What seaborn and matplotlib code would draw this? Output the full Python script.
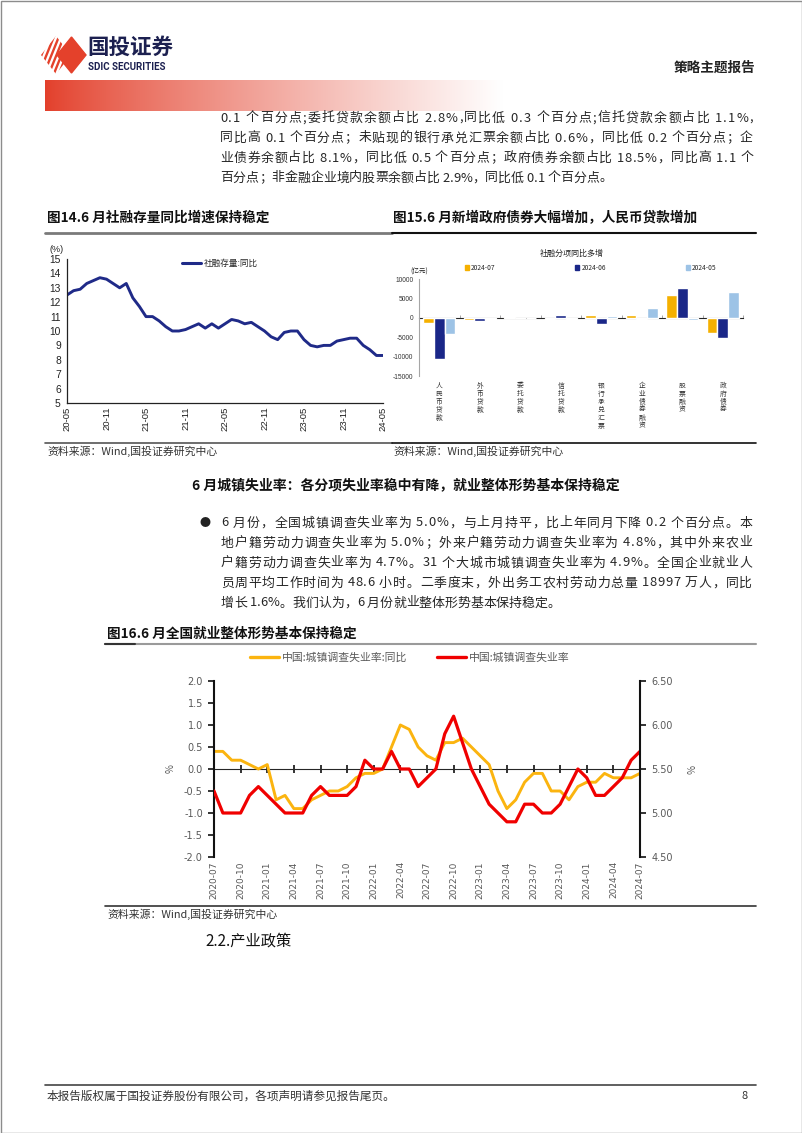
import numpy as np
import pandas as pd
import matplotlib
matplotlib.use('Agg')
import matplotlib.pyplot as plt
import seaborn as sns
from matplotlib.patches import Polygon, Rectangle, Patch
from matplotlib.lines import Line2D
from matplotlib.font_manager import FontProperties, findfont, get_font

sns.set_style('white')
plt.rcParams['font.family'] = ['Noto Sans CJK SC', 'DejaVu Sans']
plt.rcParams['axes.unicode_minus'] = False

# ---------------- data ----------------
# Fig 14: 社融存量同比 (%), monthly 2020-05 .. 2024-05
tsf_yoy = [12.5, 12.8, 12.9, 13.3, 13.5, 13.7, 13.6, 13.3, 13.0, 13.3, 12.3, 11.7,
           11.0, 11.0, 10.7, 10.3, 10.0, 10.0, 10.1, 10.3, 10.5, 10.2, 10.5, 10.2,
           10.5, 10.8, 10.7, 10.5, 10.6, 10.3, 10.0, 9.6, 9.4, 9.9, 10.0, 10.0,
           9.4, 9.0, 8.9, 9.0, 9.0, 9.3, 9.4, 9.5, 9.5, 9.0, 8.7, 8.3, 8.3]
tsf_tick_labels = ['20-05', '20-11', '21-05', '21-11', '22-05', '22-11', '23-05', '23-11', '24-05']

# Fig 15: 社融分项同比多增 (亿元)
items = ['人民币贷款', '外币贷款', '委托贷款', '信托贷款', '银行承兑汇票', '企业债券融资', '股票融资', '政府债券']
series_names = ['2024-07', '2024-06', '2024-05']
inc_2407 = [-1300, -450, 250, -350, 800, 600, 6000, -3900]
inc_2406 = [-10500, -700, -100, 800, -1500, -250, 7700, -5300]
inc_2405 = [-4100, -200, -100, -250, 450, 2400, -600, 6700]

# Fig 16: 城镇调查失业率, monthly 2020-07 .. 2024-07
ue_months = pd.period_range('2020-07', '2024-07', freq='M').strftime('%Y-%m').tolist()
ue_yoy = [0.4, 0.4, 0.2, 0.2, 0.1, 0.0, 0.1, -0.7, -0.6, -0.9, -0.9, -0.7, -0.6,
          -0.5, -0.5, -0.4, -0.2, -0.1, -0.1, 0.0, 0.5, 1.0, 0.9, 0.5, 0.3,
          0.2, 0.6, 0.6, 0.7, 0.5, 0.3, 0.1, -0.5, -0.9, -0.7, -0.3, -0.1,
          -0.1, -0.5, -0.5, -0.7, -0.4, -0.3, -0.3, -0.1, -0.2, -0.2, -0.2, -0.1]
ue_rate = [5.25, 5.0, 5.0, 5.0, 5.2, 5.3, 5.2, 5.1, 5.0, 5.0, 5.0, 5.2, 5.3,
           5.2, 5.2, 5.2, 5.3, 5.6, 5.5, 5.5, 5.7, 5.5, 5.5, 5.3, 5.4,
           5.5, 5.9, 6.1, 5.8, 5.5, 5.3, 5.1, 5.0, 4.9, 4.9, 5.1, 5.1,
           5.0, 5.0, 5.1, 5.3, 5.5, 5.4, 5.2, 5.2, 5.3, 5.4, 5.6, 5.7]

para1 = ['0.1 个百分点;委托贷款余额占比 2.8%,同比低 0.3 个百分点;信托贷款余额占比 1.1%,',
         '同比高 0.1 个百分点；未贴现的银行承兑汇票余额占比 0.6%，同比低 0.2 个百分点；企',
         '业债券余额占比 8.1%，同比低 0.5 个百分点；政府债券余额占比 18.5%，同比高 1.1 个',
         '百分点；非金融企业境内股票余额占比 2.9%，同比低 0.1 个百分点。']
para2 = ['6 月份，全国城镇调查失业率为 5.0%，与上月持平，比上年同月下降 0.2 个百分点。本',
         '地户籍劳动力调查失业率为 5.0%；外来户籍劳动力调查失业率为 4.8%，其中外来农业',
         '户籍劳动力调查失业率为 4.7%。31 个大城市城镇调查失业率为 4.9%。全国企业就业人',
         '员周平均工作时间为 48.6 小时。二季度末，外出务工农村劳动力总量 18997 万人，同比',
         '增长 1.6%。我们认为，6 月份就业整体形势基本保持稳定。']

# ---------------- page ----------------
W, H = 802, 1133
DPI = 100
fig = plt.figure(figsize=(W / DPI, H / DPI), dpi=DPI)


def rect(x0, y0, x1, y1):
    return [x0 / W, 1 - y1 / H, (x1 - x0) / W, (y1 - y0) / H]


def ftext(x, y, s, **kw):
    kw.setdefault('va', 'center')
    return fig.text(x / W, 1 - y / H, s, **kw)


BODY_FONT = get_font(findfont(FontProperties(family='Noto Sans CJK SC')))


def advances(s, size):
    BODY_FONT.set_size(size, DPI)
    out = []
    for ch in s:
        g = BODY_FONT.load_char(ord(ch))
        out.append(g.linearHoriAdvance / 65536)
    return out


def para_line(x0, x1, y, s, size, justify=True, **kw):
    adv = advances(s, size)
    natural = sum(adv)
    extra = (x1 - x0 - natural) / (len(s) - 1) if justify and len(s) > 1 else 0.0
    x = x0
    for ch, a in zip(s, adv):
        if ch != ' ':
            ftext(x, y, ch, fontsize=size, ha='left', **kw)
        x += a + extra


pg = fig.add_axes([0, 0, 1, 1])
pg.axis('off')

RED = '#E4412B'
# logo
clip = Polygon([(41, 55), (56, 36), (71, 55), (56, 74)], closed=True, transform=pg.transData)
for x0 in range(28, 72, 5):
    ln, = pg.plot([x0, x0 + 17], [76, 34], color=RED, lw=1.7, solid_capstyle='butt')
    ln.set_clip_path(clip)
pg.add_patch(Polygon([(57, 55), (71.5, 37), (86, 55), (71.5, 73)], closed=True, color=RED))
ftext(87, 47, '国投证券', fontsize=15.5, fontweight='bold', color='#1c2050')
ftext(88, 67, 'SDIC SECURITIES', fontsize=7, fontweight='bold', color='#1c2050', family='Roboto')
ftext(755, 68, '策略主题报告', fontsize=9.8, fontweight='bold', color='#222222', ha='right')

# gradient band
t = np.linspace(0, 1, 600)
frac = np.clip(t / 0.64, 0, 1) ** 0.85
red_rgb = np.array([0.89, 0.25, 0.17])
img = red_rgb[None, None, :] * (1 - frac)[None, :, None] + np.ones(3)[None, None, :] * frac[None, :, None]
pg.imshow(img, extent=[45, 760, 111, 80], aspect='auto', interpolation='bilinear')

TXT = '#262626'
for i, s in enumerate(para1):
    para_line(220, 753, 118 + i * 20, s, 9.3, justify=(i < len(para1) - 1), color=TXT)

# figure titles
ftext(47, 218, '图14.6 月社融存量同比增速保持稳定', fontsize=9.8, fontweight='bold', color='#111111')
ftext(393, 218, '图15.6 月新增政府债券大幅增加，人民币贷款增加', fontsize=9.8, fontweight='bold', color='#111111')
pg.plot([45, 392], [233, 233], color='#7a7a7a', lw=2)
pg.plot([392, 756], [233, 233], color='#111111', lw=1.5)
pg.plot([45, 392], [443, 443], color='#555555', lw=1.2)
pg.plot([392, 756], [443, 443], color='#111111', lw=1.2)
ftext(47, 451, '资料来源：Wind,国投证券研究中心', fontsize=7.8, style='italic', color='#333333')
ftext(393, 451, '资料来源：Wind,国投证券研究中心', fontsize=7.8, style='italic', color='#333333')

# section 2
ftext(192, 485, '6 月城镇失业率：各分项失业率稳中有降，就业整体形势基本保持稳定', fontsize=10, fontweight='bold', color='#111111')
ftext(200, 523, '●', fontsize=8, color='#222222')
for i, s in enumerate(para2):
    para_line(221, 752, 523 + i * 20, s, 9.3, justify=(i < len(para2) - 1), color=TXT)

ftext(107, 634, '图16.6 月全国就业整体形势基本保持稳定', fontsize=9.8, fontweight='bold', color='#111111')
pg.plot([105, 756], [644, 644], color='#9a9a9a', lw=1.5)
pg.plot([105, 135], [644, 644], color='#333333', lw=1.5)
pg.plot([105, 756], [906, 906], color='#333333', lw=1.2)
ftext(107, 914, '资料来源：Wind,国投证券研究中心', fontsize=7.8, style='italic', color='#333333')
ftext(205, 941, '2.2.产业政策', fontsize=11, color='#111111')

# footer
pg.plot([45, 756], [1085, 1085], color='#444444', lw=1.2)
ftext(47, 1096, '本报告版权属于国投证券股份有限公司，各项声明请参见报告尾页。', fontsize=8.4, color='#333333')
ftext(748, 1096, '8', fontsize=8, color='#333333', ha='right')
pg.add_patch(Rectangle((0.5, 0.5), W - 1, H - 1, fill=False, ec='#8c8c8c', lw=1))
pg.set_xlim(0, W)
pg.set_ylim(H, 0)

# ---------------- Fig 14 ----------------
ax1 = fig.add_axes(rect(67, 259, 383, 403))
ax1.patch.set_alpha(0)
df14 = pd.DataFrame({'i': np.arange(len(tsf_yoy)), 'v': tsf_yoy})
sns.lineplot(data=df14, x='i', y='v', ax=ax1, color='#1F2A88', lw=2.1)
ax1.set_xlim(0, len(tsf_yoy) - 1)
ax1.set_ylim(5, 15)
ax1.set_yticks(range(5, 16))
ax1.set_xticks(range(0, len(tsf_yoy), 6))
ax1.set_xticklabels(tsf_tick_labels, rotation=90, fontsize=6.8, family='Liberation Sans')
for lab in ax1.get_yticklabels():
    lab.set_fontsize(7.4)
    lab.set_family('Liberation Sans')
ax1.set_xlabel('')
ax1.set_ylabel('')
for sp in ['top', 'right']:
    ax1.spines[sp].set_visible(False)
for sp in ['left', 'bottom']:
    ax1.spines[sp].set_color('#222222')
    ax1.spines[sp].set_linewidth(0.9)
ax1.tick_params(axis='y', direction='out', length=3, width=0.8, pad=1.5, colors='#222222')
ax1.tick_params(axis='x', direction='in', length=3, width=0.8, pad=2.5, colors='#222222')
ax1.legend([Line2D([], [], color='#1F2A88', lw=2.2)], ['社融存量:同比'], loc='center left',
           bbox_to_anchor=(0.34, 0.97), frameon=False, fontsize=6.2, handlelength=2.2, handletextpad=0.3)
ftext(50, 250, '(%)', fontsize=6.5, color='#222222', family='Liberation Sans')

# ---------------- Fig 15 ----------------
ax2 = fig.add_axes(rect(419, 279, 743, 376))
ax2.patch.set_alpha(0)
df15 = pd.DataFrame({
    'item': items * 3,
    'series': sum([[s] * len(items) for s in series_names], []),
    'value': inc_2407 + inc_2406 + inc_2405,
})
pal = ['#F5B000', '#1A2788', '#9DC3E6']
sns.barplot(data=df15, x='item', y='value', hue='series', palette=pal, ax=ax2,
            width=0.78, gap=0, legend=False, saturation=1)
ax2.set_ylim(-15000, 10000)
ax2.set_xlim(-0.5, len(items) - 0.5)
ax2.set_yticks(range(-15000, 10001, 5000))
ax2.set_yticklabels([str(v) for v in range(-15000, 10001, 5000)], fontsize=4.8, family='Liberation Sans')
ax2.set_xticks(range(len(items)))
ax2.set_xticklabels(['\n'.join(s) for s in items], fontsize=4.9, linespacing=1.0, va='top',
                    color='#333333')
ax2.set_xlabel('')
ax2.set_ylabel('')
for sp in ['top', 'right', 'bottom']:
    ax2.spines[sp].set_visible(False)
ax2.spines['left'].set_color('#a6a6a6')
ax2.spines['left'].set_linewidth(0.8)
ax2.tick_params(axis='x', length=0, pad=4, colors='#333333')
ax2.tick_params(axis='y', direction='out', length=2.5, width=0.7, colors='#a6a6a6', labelcolor='#333333', pad=1.5)
sec2 = ax2.secondary_xaxis(15000 / 25000)
sec2.set_xticks(np.arange(-0.5, len(items), 1.0))
sec2.tick_params(axis='x', direction='out', length=2.5, width=0.7, color='#a6a6a6', labelbottom=False, labeltop=False)
sec2.spines['bottom'].set_color('#a6a6a6')
sec2.spines['bottom'].set_linewidth(0.8)
ax2.legend([Patch(color=c) for c in pal], series_names, ncol=3, loc='center', bbox_to_anchor=(0.53, 1.115),
           frameon=False, fontsize=4.8, handlelength=0.6, handleheight=0.6, handletextpad=0.3, columnspacing=12)
ftext(572, 253, '社融分项同比多增', fontsize=5.8, color='#222222', ha='center')
ftext(419, 272, '(亿元)', fontsize=4.8, color='#222222', ha='center')

# ---------------- Fig 16 ----------------
ax3 = fig.add_axes(rect(214, 681, 640, 857))
ax3.patch.set_alpha(0)
ax4 = ax3.twinx()
df16 = pd.DataFrame({'i': np.arange(len(ue_yoy)), 'yoy': ue_yoy, 'rate': ue_rate})
ORANGE = '#FBB40F'
REDL = '#F00000'
sns.lineplot(data=df16, x='i', y='yoy', ax=ax3, color=ORANGE, lw=2.1)
sns.lineplot(data=df16, x='i', y='rate', ax=ax4, color=REDL, lw=2.3)
ax3.set_xlim(0, len(ue_yoy) - 1)
ax3.set_ylim(-2, 2)
ax4.set_ylim(4.5, 6.5)
ax3.set_yticks(np.arange(-2, 2.01, 0.5))
ax3.set_yticklabels([f'{v:.1f}' for v in np.arange(-2, 2.01, 0.5)])
ax4.set_yticks(np.arange(4.5, 6.51, 0.5))
ax4.set_yticklabels([f'{v:.2f}' for v in np.arange(4.5, 6.51, 0.5)])
ax3.set_xticks(range(0, len(ue_yoy), 3))
ax3.set_xticklabels(ue_months[::3], rotation=90)
ax3.set_xlabel('')
ax4.set_xlabel('')
ax3.set_ylabel('%', fontsize=7, color='#595959', labelpad=6)
ax4.set_ylabel('%', fontsize=7, color='#595959', labelpad=8, rotation=270, va='bottom')
for a in (ax3, ax4):
    for sp in ['top', 'bottom']:
        a.spines[sp].set_visible(False)
    for lab in a.get_yticklabels() + a.get_xticklabels():
        lab.set_family('DejaVu Sans')
ax3.spines['right'].set_visible(False)
ax4.spines['left'].set_visible(False)
ax3.spines['left'].set_linewidth(1.5)
ax3.spines['left'].set_color('#111111')
ax4.spines['right'].set_linewidth(1.5)
ax4.spines['right'].set_color('#111111')
ax3.tick_params(axis='y', direction='out', length=4, width=1.2, color='#111111', labelsize=7, labelcolor='#595959', pad=4)
ax4.tick_params(axis='y', direction='out', length=4, width=1.2, color='#111111', labelsize=7, labelcolor='#595959', pad=4)
ax3.tick_params(axis='x', length=0, labelsize=6.5, labelcolor='#595959', pad=3)
sec3 = ax3.secondary_xaxis(0.5)
sec3.set_xticks(range(0, len(ue_yoy), 3))
sec3.tick_params(axis='x', direction='inout', length=6, width=1.2, color='#111111', labelbottom=False, labeltop=False)
sec3.spines['bottom'].set_color('#111111')
sec3.spines['bottom'].set_linewidth(1.5)
fig.legend([Line2D([], [], color=ORANGE, lw=2.4), Line2D([], [], color=REDL, lw=2.4)],
           ['中国:城镇调查失业率:同比', '中国:城镇调查失业率'], ncol=2, loc='center',
           bbox_to_anchor=(410 / W, 1 - 658 / H), frameon=False, fontsize=7.8, labelcolor='#595959',
           handlelength=2.6, handletextpad=0.3, columnspacing=2.8)

fig.savefig('out.png', dpi=DPI)
